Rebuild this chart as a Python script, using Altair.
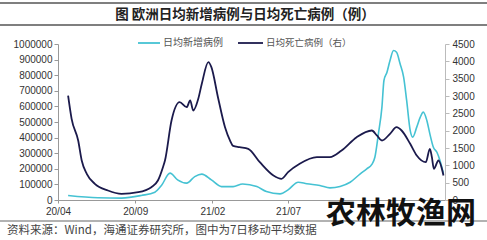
import altair as alt
import pandas as pd

# ---- data ----
case_dates = [
    "2020-04-21", "2020-06-19", "2020-08-05", "2020-09-13", "2020-10-10", "2020-10-23",
    "2020-11-09", "2020-11-24", "2020-12-12", "2020-12-28", "2021-01-11", "2021-01-30",
    "2021-02-19", "2021-03-14", "2021-04-02", "2021-04-30", "2021-05-19", "2021-06-15",
    "2021-07-01", "2021-07-21", "2021-08-07", "2021-09-02", "2021-09-22", "2021-10-12",
    "2021-11-01", "2021-11-21", "2021-12-04", "2021-12-14", "2021-12-20", "2021-12-27",
    "2022-01-03", "2022-01-07", "2022-01-13", "2022-01-19", "2022-01-26", "2022-02-01",
    "2022-02-08", "2022-02-15", "2022-02-21", "2022-02-28", "2022-03-05", "2022-03-13",
    "2022-03-20", "2022-03-26", "2022-04-02", "2022-04-08", "2022-04-15", "2022-04-22",
    "2022-04-28", "2022-05-05",
]
case_values = [
    29000, 14000, 12000, 29000, 50000, 93000,
    172000, 129000, 108000, 150000, 166000, 129000,
    86000, 86000, 103000, 86000, 54000, 39000,
    65000, 114000, 104000, 93000, 78000, 87000,
    114000, 168000, 200000, 228000, 274000, 424000,
    595000, 766000, 819000, 894000, 958000, 947000,
    873000, 787000, 638000, 446000, 403000, 467000,
    531000, 563000, 510000, 424000, 338000, 306000,
    253000, 168000,
]

death_dates = [
    "2020-04-21", "2020-04-28", "2020-05-11", "2020-05-18", "2020-05-28", "2020-06-13",
    "2020-07-09", "2020-08-05", "2020-09-07", "2020-10-03", "2020-10-16", "2020-10-26",
    "2020-10-30", "2020-11-12", "2020-11-28", "2020-12-12", "2020-12-19", "2020-12-25",
    "2021-01-04", "2021-01-11", "2021-01-24", "2021-01-30", "2021-02-12", "2021-02-26",
    "2021-03-08", "2021-03-14", "2021-03-27", "2021-04-13", "2021-05-06", "2021-06-02",
    "2021-06-18", "2021-07-01", "2021-07-24", "2021-08-27", "2021-09-22", "2021-10-15",
    "2021-11-14", "2021-12-14", "2021-12-24", "2022-01-03", "2022-01-19", "2022-02-01",
    "2022-02-11", "2022-02-28", "2022-03-13", "2022-03-31", "2022-04-08", "2022-04-12",
    "2022-04-16", "2022-04-25", "2022-05-05",
]
death_values = [
    3014, 2342, 1716, 1139, 756, 467,
    274, 179, 225, 369, 562, 946,
    1139, 2293, 2821, 2677, 2870, 2582,
    2919, 3352, 3975, 3831, 2966, 2100,
    1716, 1560, 1523, 1477, 1091, 707,
    611, 802, 1044, 1235, 1235, 1428,
    1812, 2005, 1861, 1716, 1909, 2100,
    2005, 1621, 1284, 1091, 1477, 1235,
    900, 1139, 707,
]

series_names = ["日均新增病例", "日均死亡病例（右）"]
series_colors = ["#45C2D3", "#1B1A4C"]
tick_dates = [(2020, 4), (2020, 9), (2021, 2), (2021, 7)]
left_ticks = list(range(0, 1000001, 100000))
right_ticks = list(range(0, 4501, 500))

title_text = "图  欧洲日均新增病例与日均死亡病例（例）"
source_text = "资料来源：Wind，海通证券研究所，图中为7日移动平均数据"
watermark_text = "农林牧渔网"

cases = pd.DataFrame({"date": [d + "T00:00:00" for d in case_dates], "value": case_values})
deaths = pd.DataFrame({"date": [d + "T00:00:00" for d in death_dates], "value": death_values})

FONT = "Liberation Sans"
CJK = "Noto Sans CJK SC"

x_enc = alt.X(
    "date:T",
    scale=alt.Scale(domain=[alt.DateTime(year=2020, month=4, date=1),
                            alt.DateTime(year=2022, month=5, date=8)]),
    axis=alt.Axis(
        values=[alt.DateTime(year=y, month=m, date=1) for y, m in tick_dates],
        format="%y/%m", title=None, grid=False, domainColor="#999999",
        tickColor="#999999", tickSize=3, labelPadding=3, labelFont=FONT,
        labelFontSize=10, labelColor="#333333", labelFlush=False,
    ),
)

case_line = alt.Chart(cases).mark_line(
    color=series_colors[0], strokeWidth=1.6, interpolate="monotone"
).encode(
    x=x_enc,
    y=alt.Y("value:Q", scale=alt.Scale(domain=[0, 1000000]),
            axis=alt.Axis(orient="left", values=left_ticks, title=None, grid=False,
                          domainColor="#999999", tickColor="#999999", tickSize=4,
                          labelPadding=2, labelFont=FONT, labelFontSize=10,
                          labelColor="#333333", format="d")),
)

death_line = alt.Chart(deaths).mark_line(
    color=series_colors[1], strokeWidth=1.8, interpolate="monotone"
).encode(
    x=x_enc,
    y=alt.Y("value:Q", scale=alt.Scale(domain=[0, 4500]),
            axis=alt.Axis(orient="right", values=right_ticks, title=None, grid=False,
                          domainColor="#bbbbbb", tickColor="#bbbbbb", tickSize=4,
                          labelPadding=3, labelFont=FONT, labelFontSize=10,
                          labelColor="#333333", format="d")),
)

one = pd.DataFrame({"a": [0]})

def hrule(y, x1, x2, color="#555555", w=1.5):
    return alt.Chart(one).mark_rule(color=color, strokeWidth=w).encode(
        x=alt.value(x1), x2=alt.value(x2), y=alt.value(y))

def label(text, x, y, size, align="left", color="#333333", font=CJK, weight="normal"):
    return alt.Chart(one).mark_text(
        text=text, align=align, baseline="middle", fontSize=size, font=font,
        color=color, fontWeight=weight,
    ).encode(x=alt.value(x), y=alt.value(y))

decor = [
    hrule(-41, -58, 429),
    hrule(-19, -58, 429),
    label(title_text, 187, -29, 13.5, align="center", color="#222222", weight="bold"),
    # legend
    hrule(-1, 80, 102, color=series_colors[0], w=1.8),
    label(series_names[0], 105, -1, 10, color="#555555"),
    hrule(-1, 180, 205, color=series_colors[1], w=1.8),
    label(series_names[1], 208, -1, 9.5, color="#555555"),
    # footer
    hrule(177, -58, 429, color="#666666", w=1.2),
    label(source_text, -51, 187, 11.5, color="#444444"),
    label(watermark_text, 343, 170, 30, align="center", color="#111111", weight="bold"),
]

chart = alt.layer(case_line, death_line, *decor).resolve_scale(
    y="independent"
).properties(
    width=387, height=156,
    autosize=alt.AutoSizeParams(type="none"),
    padding={"left": 58, "top": 44, "right": 42, "bottom": 40},
    background="white",
).configure_view(stroke=None)

chart.save("out.html", embed_options={"renderer": "svg", "actions": False})
